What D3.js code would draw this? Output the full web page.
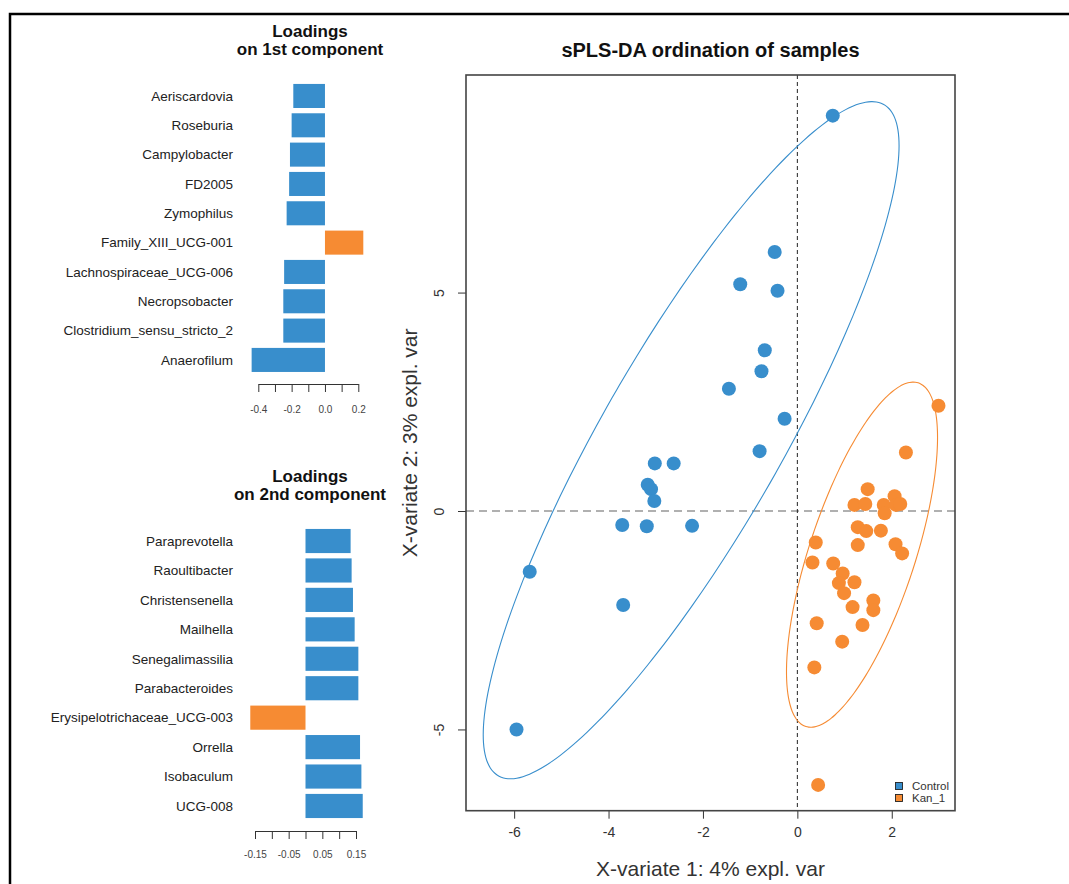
<!DOCTYPE html>
<html>
<head>
<meta charset="utf-8">
<script src="https://cdn.jsdelivr.net/npm/d3@7"></script>
<style>
  body { margin: 0; background: #fff; }
  svg { display: block; font-family: "Liberation Sans", Arial, Helvetica, sans-serif; }
</style>
</head>
<body>
<svg id="chart" width="1069" height="884"></svg>
<script>
// Loadings on component 1
const comp1Names = ['Aeriscardovia', 'Roseburia', 'Campylobacter', 'FD2005', 'Zymophilus',
  'Family_XIII_UCG-001', 'Lachnospiraceae_UCG-006', 'Necropsobacter', 'Clostridium_sensu_stricto_2', 'Anaerofilum'];
const comp1Values = [-0.19, -0.20, -0.21, -0.215, -0.23, 0.23, -0.245, -0.25, -0.25, -0.44];
const comp1Groups = ['Control', 'Control', 'Control', 'Control', 'Control', 'Kan_1', 'Control', 'Control', 'Control', 'Control'];
const comp1Ticks = [-0.4, -0.3, -0.2, -0.1, 0, 0.1, 0.2];
const comp1TickLabels = ['-0.4', '', '-0.2', '', '0.0', '', '0.2'];

// Loadings on component 2
const comp2Names = ['Paraprevotella', 'Raoultibacter', 'Christensenella', 'Mailhella', 'Senegalimassilia',
  'Parabacteroides', 'Erysipelotrichaceae_UCG-003', 'Orrella', 'Isobaculum', 'UCG-008'];
const comp2Values = [0.134, 0.137, 0.141, 0.146, 0.157, 0.157, -0.164, 0.162, 0.166, 0.170];
const comp2Groups = ['Control', 'Control', 'Control', 'Control', 'Control', 'Control', 'Kan_1', 'Control', 'Control', 'Control'];
const comp2Ticks = [-0.15, -0.10, -0.05, 0, 0.05, 0.10, 0.15];
const comp2TickLabels = ['-0.15', '', '-0.05', '', '0.05', '', '0.15'];

// Sample scores (X-variate 1, X-variate 2)
const controlX = [0.75, -0.48, -1.21, -0.42, -0.69, -0.76, -1.45, -0.27, -0.80, -3.02,
  -2.62, -3.17, -3.10, -3.03, -3.71, -3.19, -2.23, -5.67, -3.69, -5.95];
const controlY = [9.05, 5.93, 5.19, 5.04, 3.68, 3.20, 2.80, 2.11, 1.37, 1.09,
  1.09, 0.60, 0.50, 0.23, -0.32, -0.35, -0.34, -1.39, -2.15, -5.00];
const kanX = [2.99, 2.30, 1.49, 1.21, 1.44, 1.83, 2.06, 2.09, 2.18, 1.85,
  1.28, 1.46, 1.77, 1.28, 2.08, 2.22, 0.39, 0.32, 0.76, 0.96,
  0.88, 1.21, 0.99, 1.61, 1.61, 1.17, 0.41, 1.38, 0.95, 0.36, 0.44];
const kanY = [2.41, 1.34, 0.50, 0.14, 0.16, 0.14, 0.34, 0.14, 0.16, -0.05,
  -0.37, -0.46, -0.45, -0.78, -0.76, -0.97, -0.72, -1.18, -1.20, -1.43,
  -1.65, -1.63, -1.88, -2.05, -2.27, -2.20, -2.57, -2.61, -2.99, -3.58, -6.27];

// Confidence ellipses (center, sd along each axis, covariance)
const groups = ['Control', 'Kan_1'];
const ellipseCx = [-2.25, 1.37];
const ellipseCy = [1.62, -1.0];
const ellipseSdX = [4.405, 1.6];
const ellipseSdY = [7.75, 3.95];
const ellipseCov = [29.7, 4.29];

const xTicks = [-6, -4, -2, 0, 2];
const yTicks = [-5, 0, 5];

const colors = { Control: '#388ECC', Kan_1: '#F68B33' };

const svg = d3.select('#chart');

// outer frame
svg.append('path').attr('d', 'M10,884V14H1069')
  .attr('fill', 'none').attr('stroke', '#000').attr('stroke-width', 2.5);

function drawLoadings(names, values, grp, ticks, tickLabels, o) {
  const y = d3.scaleBand().domain(names).range(o.yRange).paddingInner(0.18).paddingOuter(0.09);
  const x = d3.scaleLinear().domain(d3.extent(ticks)).range(o.xRange);
  const g = svg.append('g');

  g.selectAll('.bar').data(values).join('rect')
    .attr('x', d => Math.min(x(0), x(d)))
    .attr('width', d => Math.abs(x(d) - x(0)))
    .attr('y', (d, i) => y(names[i]))
    .attr('height', y.bandwidth())
    .attr('fill', (d, i) => colors[grp[i]]);

  g.selectAll('.lab').data(names).join('text')
    .attr('x', 233).attr('y', d => y(d) + y.bandwidth() / 2)
    .attr('dy', '0.35em').attr('text-anchor', 'end')
    .attr('font-size', '13.5px').attr('fill', '#222')
    .text(d => d);

  g.append('g').attr('transform', `translate(0,${o.axisY})`)
    .call(d3.axisBottom(x).tickValues(ticks).tickSize(8).tickSizeOuter(0).tickPadding(o.pad)
      .tickFormat((d, i) => tickLabels[i]))
    .call(a => a.select('.domain').attr('stroke', '#333'))
    .call(a => a.selectAll('.tick line').attr('stroke', '#333'))
    .selectAll('text').attr('font-size', '10px').attr('fill', '#444')
    .attr('font-family', '"Liberation Sans", Arial, sans-serif');

  o.title.forEach((t, i) => {
    svg.append('text').attr('x', 310).attr('y', o.titleY[i])
      .attr('text-anchor', 'middle').attr('font-size', '17px').attr('font-weight', 'bold')
      .attr('fill', '#111').text(t);
  });
}

drawLoadings(comp1Names, comp1Values, comp1Groups, comp1Ticks, comp1TickLabels, {
  yRange: [81.3, 374.6], xRange: [258.3, 358.3], axisY: 384, pad: 14,
  title: ['Loadings', 'on 1st component'], titleY: [37, 55]
});
drawLoadings(comp2Names, comp2Values, comp2Groups, comp2Ticks, comp2TickLabels, {
  yRange: [526.3, 820.7], xRange: [255, 356], axisY: 831, pad: 12,
  title: ['Loadings', 'on 2nd component'], titleY: [482, 500]
});

// Scatter plot
const L = 466, R = 955, T = 75, B = 810.7;
const x = d3.scaleLinear().domain([-7.02, 3.34]).range([L, R]);
const y = d3.scaleLinear().domain([-6.86, 9.98]).range([B, T]);
const sp = svg.append('g');

// reference lines
sp.append('line').attr('x1', L).attr('x2', R).attr('y1', y(0)).attr('y2', y(0))
  .attr('stroke', '#b0b0b0').attr('stroke-width', 2).attr('stroke-dasharray', '8,5');
sp.append('line').attr('x1', x(0)).attr('x2', x(0)).attr('y1', T).attr('y2', B)
  .attr('stroke', '#222').attr('stroke-width', 1).attr('stroke-dasharray', '4,3');

// ellipses
const angles = d3.range(0, 361, 3).map(a => a * Math.PI / 180);
groups.forEach((gname, i) => {
  const sx = ellipseSdX[i], sy = ellipseSdY[i], c = ellipseCov[i];
  const k = c / sx, s2 = Math.sqrt(sy * sy - k * k);
  const line = d3.line()
    .x(t => x(ellipseCx[i] + sx * Math.cos(t)))
    .y(t => y(ellipseCy[i] + k * Math.cos(t) + s2 * Math.sin(t)))
    .curve(d3.curveCardinalClosed);
  sp.append('path').datum(angles.slice(0, -1)).attr('d', line)
    .attr('fill', 'none').attr('stroke', colors[gname]).attr('stroke-width', 1.1);
});

// points
sp.selectAll('.ctl').data(controlX).join('circle')
  .attr('cx', d => x(d)).attr('cy', (d, i) => y(controlY[i])).attr('r', 7)
  .attr('fill', colors.Control);
sp.selectAll('.kan').data(kanX).join('circle')
  .attr('cx', d => x(d)).attr('cy', (d, i) => y(kanY[i])).attr('r', 7)
  .attr('fill', colors.Kan_1);

// axes (plain hyphen minus, as in the original)
const fmtTick = d => String(d);
sp.append('g').attr('transform', `translate(0,${B})`)
  .call(d3.axisBottom(x).tickValues(xTicks).tickSize(8).tickPadding(8).tickFormat(fmtTick))
  .call(a => a.select('.domain').remove())
  .call(a => a.selectAll('.tick line').attr('stroke', '#333'))
  .selectAll('text').attr('font-size', '14px').attr('fill', '#333')
  .attr('font-family', '"Liberation Sans", Arial, sans-serif');

sp.append('g').attr('transform', `translate(${L},0)`)
  .call(d3.axisLeft(y).tickValues(yTicks).tickSize(8).tickFormat(fmtTick))
  .call(a => a.select('.domain').remove())
  .call(a => a.selectAll('.tick line').attr('stroke', '#333'))
  .selectAll('text').attr('x', 0).attr('dy', '0.35em')
  .attr('transform', 'translate(-27,0) rotate(-90)').attr('text-anchor', 'middle')
  .attr('font-size', '14px').attr('fill', '#333')
  .attr('font-family', '"Liberation Sans", Arial, sans-serif');

// box
sp.append('rect').attr('x', L).attr('y', T).attr('width', R - L).attr('height', B - T)
  .attr('fill', 'none').attr('stroke', '#444').attr('stroke-width', 1.6);

// titles
svg.append('text').attr('x', (L + R) / 2).attr('y', 57).attr('text-anchor', 'middle')
  .attr('font-size', '20px').attr('font-weight', 'bold').attr('fill', '#111')
  .text('sPLS-DA ordination of samples');
svg.append('text').attr('x', (L + R) / 2).attr('y', 869).attr('dy', '0.35em')
  .attr('text-anchor', 'middle').attr('font-size', '21px').attr('fill', '#333')
  .text('X-variate 1: 4% expl. var');
svg.append('text').attr('transform', `translate(410,${(T + B) / 2}) rotate(-90)`)
  .attr('dy', '0.35em').attr('text-anchor', 'middle').attr('font-size', '21px').attr('fill', '#333')
  .text('X-variate 2: 3% expl. var');

// legend
const lg = svg.append('g');
groups.forEach((gname, i) => {
  const ly = 786 + i * 12;
  lg.append('rect').attr('x', 895.5).attr('y', ly - 3.5).attr('width', 7).attr('height', 7)
    .attr('fill', colors[gname]).attr('stroke', '#222').attr('stroke-width', 0.9);
  lg.append('text').attr('x', 912).attr('y', ly).attr('dy', '0.35em')
    .attr('font-size', '11.5px').attr('fill', '#333').text(gname);
});
</script>
</body>
</html>
